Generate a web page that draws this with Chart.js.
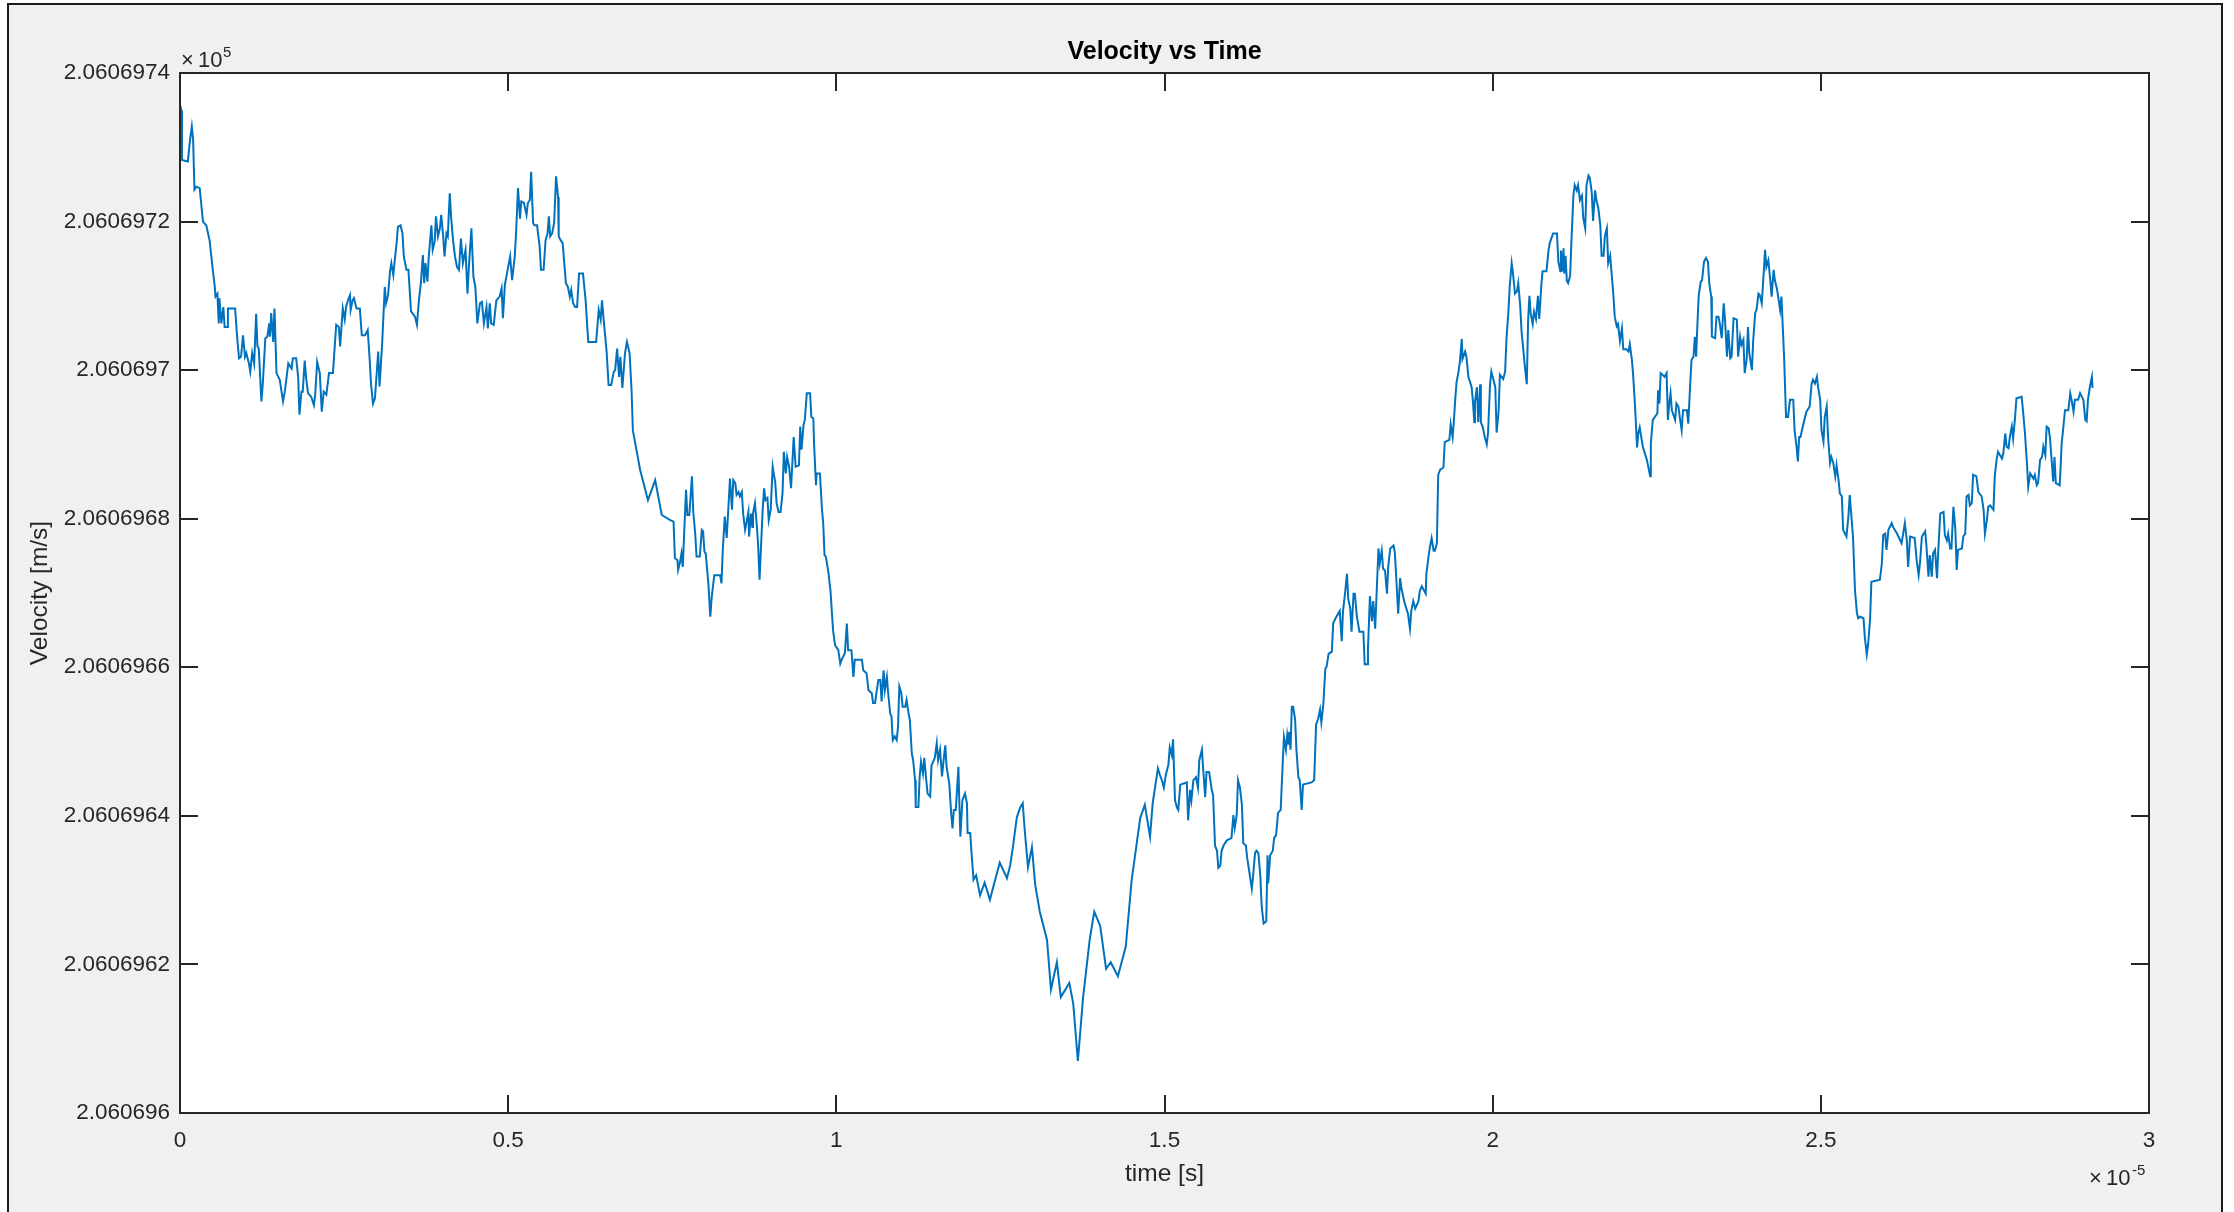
<!DOCTYPE html>
<html>
<head>
<meta charset="utf-8">
<title>Velocity vs Time</title>
<script src="https://cdn.jsdelivr.net/npm/chart.js@4.4.1/dist/chart.umd.min.js"></script>
<style>
  html, body { margin: 0; padding: 0; background: #ffffff; overflow: hidden; }
  canvas { display: block; }
</style>
</head>
<body>
<canvas id="chart" width="2234" height="1212"></canvas>
<script>
// Sample times in microseconds (the axis shows them in units of 1e-5 s)
const timeUs = [
  0,0.02,0.03,0.12,0.15,0.18,0.20,0.22,0.25,0.30,
  0.35,0.40,0.45,0.50,0.53,0.54,0.57,0.59,0.60,0.63,
  0.66,0.68,0.72,0.73,0.84,0.87,0.90,0.93,0.96,0.99,
  1.01,1.05,1.07,1.10,1.13,1.16,1.18,1.20,1.24,1.26,
  1.30,1.33,1.36,1.37,1.39,1.42,1.44,1.47,1.52,1.57,
  1.60,1.65,1.70,1.72,1.77,1.80,1.82,1.85,1.87,1.90,
  1.92,1.95,2.00,2.04,2.06,2.09,2.13,2.16,2.19,2.23,
  2.27,2.33,2.38,2.42,2.44,2.48,2.51,2.53,2.56,2.59,
  2.60,2.63,2.65,2.69,2.74,2.77,2.82,2.86,2.89,2.91,
  2.94,2.97,2.99,3.02,3.04,3.08,3.12,3.14,3.17,3.20,
  3.22,3.25,3.27,3.30,3.32,3.36,3.39,3.41,3.45,3.48,
  3.52,3.58,3.61,3.64,3.67,3.70,3.72,3.74,3.77,3.79,
  3.83,3.85,3.88,3.90,3.93,3.96,3.98,4.01,4.03,4.06,
  4.08,4.11,4.13,4.16,4.19,4.22,4.25,4.28,4.31,4.35,
  4.38,4.40,4.44,4.47,4.50,4.53,4.57,4.60,4.63,4.67,
  4.69,4.72,4.74,4.78,4.82,4.87,4.90,4.92,4.95,5.00,
  5.03,5.06,5.10,5.12,5.15,5.18,5.20,5.24,5.28,5.30,
  5.33,5.35,5.38,5.40,5.44,5.48,5.50,5.54,5.57,5.60,
  5.62,5.64,5.67,5.70,5.73,5.76,5.77,5.80,5.83,5.88,
  5.91,5.94,5.96,5.99,6.02,6.05,6.08,6.14,6.18,6.22,
  6.34,6.38,6.41,6.43,6.46,6.50,6.53,6.57,6.61,6.63,
  6.66,6.69,6.71,6.74,6.78,6.81,6.85,6.88,6.90,7.01,
  7.13,7.24,7.34,7.47,7.52,7.54,7.58,7.59,7.62,7.64,
  7.66,7.69,7.71,7.73,7.76,7.80,7.82,7.85,7.87,7.92,
  7.95,7.97,7.99,8.01,8.05,8.08,8.10,8.14,8.23,8.25,
  8.27,8.30,8.33,8.35,8.38,8.41,8.43,8.46,8.48,8.51,
  8.53,8.56,8.58,8.61,8.63,8.66,8.67,8.70,8.72,8.73,
  8.76,8.79,8.81,8.83,8.85,8.88,8.90,8.92,8.95,8.97,
  9.00,9.03,9.07,9.09,9.12,9.15,9.18,9.20,9.23,9.25,
  9.28,9.31,9.33,9.35,9.38,9.43,9.45,9.47,9.50,9.52,
  9.55,9.60,9.62,9.65,9.66,9.69,9.70,9.75,9.78,9.80,
  9.82,9.84,9.88,9.91,9.93,9.95,9.98,10.03,10.06,10.08,
  10.13,10.16,10.18,10.23,10.26,10.28,10.39,10.41,10.46,10.49,
  10.54,10.56,10.59,10.61,10.64,10.67,10.69,10.72,10.74,10.77,
  10.79,10.82,10.84,10.86,10.89,10.92,10.94,10.96,10.99,11.01,
  11.05,11.07,11.10,11.12,11.15,11.17,11.20,11.21,11.25,11.27,
  11.29,11.32,11.34,11.37,11.39,11.43,11.45,11.50,11.53,11.55,
  11.58,11.61,11.63,11.66,11.68,11.72,11.75,11.77,11.79,11.82,
  11.86,11.87,11.89,11.92,11.96,11.99,12.00,12.04,12.06,12.09,
  12.13,12.19,12.26,12.34,12.42,12.49,12.60,12.65,12.69,12.75,
  12.80,12.84,12.87,12.92,12.98,13.03,13.10,13.21,13.27,13.36,
  13.42,13.55,13.61,13.68,13.76,13.86,13.93,14.02,14.11,14.18,
  14.29,14.41,14.50,14.63,14.70,14.78,14.82,14.90,14.93,14.96,
  14.99,15.02,15.06,15.08,15.11,15.13,15.16,15.19,15.21,15.24,
  15.34,15.36,15.39,15.41,15.44,15.48,15.51,15.53,15.57,15.59,
  15.62,15.64,15.68,15.72,15.74,15.77,15.80,15.82,15.85,15.87,
  15.90,15.95,16.02,16.05,16.07,16.10,16.12,16.15,16.18,16.20,
  16.24,16.26,16.29,16.33,16.35,16.38,16.40,16.43,16.46,16.48,
  16.51,16.55,16.57,16.58,16.61,16.65,16.67,16.70,16.73,16.77,
  16.80,16.82,16.85,16.87,16.89,16.90,16.92,16.94,16.96,16.99,
  17.01,17.04,17.06,17.09,17.11,17.24,17.28,17.31,17.34,17.37,
  17.39,17.42,17.45,17.47,17.50,17.55,17.57,17.60,17.67,17.70,
  17.72,17.75,17.78,17.80,17.83,17.85,17.88,17.90,17.93,17.97,
  18.03,18.05,18.09,18.10,18.13,18.16,18.18,18.21,18.23,18.26,
  18.28,18.31,18.33,18.36,18.39,18.41,18.44,18.49,18.51,18.54,
  18.56,18.59,18.61,18.66,18.71,18.74,18.76,18.79,18.82,18.87,
  18.89,18.92,18.98,18.99,19.02,19.04,19.07,19.10,19.12,19.15,
  19.17,19.20,19.25,19.27,19.34,19.36,19.39,19.41,19.43,19.45,
  19.48,19.50,19.53,19.54,19.58,19.60,19.63,19.68,19.70,19.72,
  19.73,19.76,19.78,19.81,19.82,19.85,19.88,19.91,19.93,19.96,
  19.98,20.04,20.06,20.09,20.11,20.16,20.19,20.21,20.24,20.26,
  20.29,20.31,20.34,20.37,20.39,20.42,20.44,20.47,20.49,20.52,
  20.54,20.56,20.58,20.61,20.63,20.66,20.69,20.71,20.74,20.76,
  20.82,20.85,20.87,20.92,20.98,21.00,21.03,21.04,21.06,21.08,
  21.09,21.11,21.13,21.15,21.18,21.20,21.23,21.25,21.28,21.30,
  21.33,21.36,21.38,21.41,21.43,21.46,21.48,21.51,21.53,21.56,
  21.58,21.61,21.64,21.66,21.69,21.71,21.74,21.76,21.79,21.81,
  21.84,21.86,21.89,21.91,21.94,21.97,21.99,22.04,22.07,22.09,
  22.12,22.14,22.17,22.20,22.22,22.24,22.29,22.35,22.40,22.41,
  22.44,22.51,22.52,22.54,22.56,22.62,22.65,22.67,22.69,22.71,
  22.73,22.78,22.80,22.83,22.85,22.88,22.90,22.96,22.98,23.01,
  23.03,23.06,23.08,23.10,23.12,23.14,23.17,23.19,23.22,23.25,
  23.28,23.30,23.33,23.34,23.39,23.41,23.44,23.46,23.49,23.52,
  23.54,23.57,23.59,23.62,23.64,23.67,23.72,23.74,23.77,23.79,
  23.82,23.84,23.87,23.89,23.91,23.95,23.97,24.00,24.02,24.05,
  24.07,24.10,24.12,24.15,24.17,24.20,24.23,24.25,24.28,24.30,
  24.33,24.35,24.38,24.40,24.42,24.44,24.47,24.50,24.53,24.58,
  24.60,24.63,24.65,24.67,24.69,24.72,24.76,24.78,24.83,24.86,
  24.88,24.91,24.94,24.96,24.99,25.01,25.04,25.06,25.09,25.11,
  25.14,25.16,25.19,25.22,25.24,25.27,25.29,25.32,25.34,25.39,
  25.42,25.44,25.47,25.49,25.52,25.55,25.57,25.60,25.65,25.67,
  25.70,25.72,25.75,25.77,25.90,25.93,25.95,25.98,26.00,26.03,
  26.08,26.10,26.16,26.23,26.26,26.28,26.31,26.33,26.36,26.43,
  26.46,26.49,26.51,26.54,26.59,26.61,26.64,26.66,26.69,26.71,
  26.74,26.77,26.79,26.82,26.87,26.89,26.92,26.94,26.97,26.99,
  27.02,27.05,27.07,27.09,27.15,27.17,27.20,27.22,27.25,27.27,
  27.30,27.32,27.37,27.40,27.45,27.48,27.50,27.53,27.55,27.58,
  27.63,27.65,27.68,27.70,27.76,27.78,27.81,27.83,27.86,27.88,
  27.91,27.93,27.96,27.98,28.06,28.08,28.11,28.14,28.16,28.19,
  28.24,28.26,28.29,28.31,28.34,28.37,28.39,28.42,28.44,28.47,
  28.49,28.52,28.54,28.56,28.58,28.64,28.67,28.69,28.72,28.77,
  28.80,28.82,28.85,28.87,28.92,28.95,29.00,29.03,29.05,29.07,
  29.10,29.13,29.14
];

// Measured velocity in m/s
const velocity = [
  206069.7357,206069.7350,206069.7283,206069.7281,206069.7308,206069.7328,206069.7310,206069.7243,206069.7247,206069.7245,
  206069.7200,206069.7195,206069.7175,206069.7135,206069.7112,206069.7099,206069.7103,206069.7063,206069.7097,206069.7063,
  206069.7085,206069.7058,206069.7058,206069.7083,206069.7083,206069.7045,206069.7016,206069.7018,206069.7047,206069.7018,
  206069.7023,206069.7009,206069.6998,206069.7023,206069.7009,206069.7076,206069.7032,206069.7029,206069.6958,206069.6980,
  206069.7043,206069.7045,206069.7063,206069.7045,206069.7077,206069.7038,206069.7083,206069.6996,206069.6987,206069.6958,
  206069.6973,206069.7009,206069.7002,206069.7016,206069.7016,206069.6991,206069.6940,206069.6971,206069.6971,206069.7013,
  206069.6991,206069.6969,206069.6964,206069.6953,206069.6967,206069.7011,206069.6996,206069.6944,206069.6971,206069.6967,
  206069.6996,206069.6996,206069.7061,206069.7058,206069.7032,206069.7083,206069.7068,206069.7085,206069.7094,206069.7101,
  206069.7081,206069.7094,206069.7097,206069.7083,206069.7083,206069.7047,206069.7047,206069.7054,206069.7014,206069.6982,
  206069.6955,206069.6962,206069.6987,206069.7025,206069.6978,206069.7036,206069.7112,206069.7090,206069.7101,206069.7133,
  206069.7144,206069.7128,206069.7146,206069.7171,206069.7193,206069.7195,206069.7184,206069.7153,206069.7135,206069.7135,
  206069.7079,206069.7072,206069.7061,206069.7094,206069.7117,206069.7155,206069.7117,206069.7144,206069.7119,206069.7153,
  206069.7195,206069.7162,206069.7173,206069.7207,206069.7180,206069.7191,206069.7209,206069.7180,206069.7153,206069.7184,
  206069.7180,206069.7238,206069.7207,206069.7175,206069.7153,206069.7139,206069.7135,206069.7177,206069.7144,206069.7162,
  206069.7103,206069.7137,206069.7191,206069.7126,206069.7112,206069.7063,206069.7090,206069.7092,206069.7063,206069.7085,
  206069.7056,206069.7090,206069.7063,206069.7061,206069.7094,206069.7099,206069.7110,206069.7070,206069.7115,206069.7139,
  206069.7153,206069.7121,206069.7153,206069.7184,206069.7245,206069.7204,206069.7227,206069.7225,206069.7209,206069.7225,
  206069.7229,206069.7267,206069.7198,206069.7195,206069.7195,206069.7166,206069.7135,206069.7135,206069.7175,206069.7184,
  206069.7207,206069.7180,206069.7184,206069.7198,206069.7261,206069.7233,206069.7180,206069.7175,206069.7171,206069.7117,
  206069.7112,206069.7099,206069.7108,206069.7090,206069.7085,206069.7085,206069.7130,206069.7130,206069.7094,206069.7038,
  206069.7038,206069.7081,206069.7068,206069.7094,206069.7063,206069.7025,206069.6980,206069.6980,206069.6998,206069.7000,
  206069.7029,206069.6991,206069.7018,206069.6976,206069.7023,206069.7038,206069.7023,206069.6973,206069.6919,206069.6866,
  206069.6825,206069.6852,206069.6805,206069.6798,206069.6796,206069.6747,206069.6744,206069.6731,206069.6742,206069.6753,
  206069.6735,206069.6798,206069.6839,206069.6805,206069.6805,206069.6857,206069.6809,206069.6780,206069.6749,206069.6749,
  206069.6785,206069.6783,206069.6756,206069.6753,206069.6713,206069.6668,206069.6693,206069.6724,206069.6724,206069.6713,
  206069.6758,206069.6803,206069.6774,206069.6807,206069.6854,206069.6812,206069.6852,206069.6848,206069.6832,206069.6836,
  206069.6830,206069.6836,206069.6807,206069.6785,206069.6794,206069.6809,206069.6776,206069.6807,206069.6789,206069.6807,
  206069.6821,206069.6789,206069.6762,206069.6718,206069.6758,206069.6816,206069.6841,206069.6825,206069.6828,206069.6798,
  206069.6812,206069.6870,206069.6848,206069.6821,206069.6809,206069.6809,206069.6834,206069.6890,206069.6861,206069.6883,
  206069.6870,206069.6841,206069.6875,206069.6910,206069.6870,206069.6872,206069.6924,206069.6893,206069.6926,206069.6933,
  206069.6969,206069.6969,206069.6937,206069.6935,206069.6902,206069.6845,206069.6861,206069.6861,206069.6814,206069.6794,
  206069.6751,206069.6749,206069.6727,206069.6704,206069.6677,206069.6650,206069.6630,206069.6623,206069.6605,206069.6610,
  206069.6619,206069.6659,206069.6623,206069.6623,206069.6587,206069.6610,206069.6610,206069.6596,206069.6592,206069.6569,
  206069.6565,206069.6552,206069.6552,206069.6565,206069.6583,206069.6583,206069.6554,206069.6596,206069.6569,206069.6587,
  206069.6565,206069.6538,206069.6534,206069.6502,206069.6507,206069.6502,206069.6520,206069.6574,206069.6565,206069.6547,
  206069.6547,206069.6556,206069.6538,206069.6529,206069.6484,206069.6475,206069.6448,206069.6412,206069.6412,206069.6453,
  206069.6473,206069.6457,206069.6478,206069.6448,206069.6430,206069.6426,206069.6468,206069.6478,206069.6498,206069.6475,
  206069.6489,206069.6453,206069.6471,206069.6495,206069.6466,206069.6444,206069.6403,206069.6383,206069.6408,206069.6408,
  206069.6466,206069.6430,206069.6372,206069.6421,206069.6430,206069.6417,206069.6377,206069.6377,206069.6350,206069.6314,
  206069.6320,206069.6293,206069.6310,206069.6287,206069.6314,206069.6337,206069.6316,206069.6334,206069.6358,206069.6398,
  206069.6411,206069.6417,206069.6381,206069.6331,206069.6358,206069.6307,206069.6271,206069.6233,206069.6166,206069.6203,
  206069.6156,206069.6175,206069.6147,206069.6070,206069.6156,206069.6233,206069.6271,206069.6252,206069.6194,206069.6203,
  206069.6184,206069.6224,206069.6314,206069.6397,206069.6415,206069.6372,206069.6417,206069.6464,206069.6455,206069.6448,
  206069.6438,206069.6455,206069.6469,206069.6492,206069.6482,206069.6503,206069.6421,206069.6411,206069.6408,206069.6442,
  206069.6445,206069.6394,206069.6435,206069.6421,206069.6448,206069.6452,206069.6438,206069.6475,206069.6489,206069.6462,
  206069.6425,206069.6459,206069.6459,206069.6435,206069.6428,206069.6360,206069.6353,206069.6330,206069.6333,206069.6353,
  206069.6360,206069.6367,206069.6370,206069.6401,206069.6384,206069.6401,206069.6448,206069.6438,206069.6414,206069.6363,
  206069.6360,206069.6343,206069.6326,206069.6302,206069.6319,206069.6350,206069.6353,206069.6350,206069.6319,206069.6279,
  206069.6255,206069.6258,206069.6347,206069.6309,206069.6347,206069.6353,206069.6370,206069.6374,206069.6404,206069.6408,
  206069.6469,206069.6506,206069.6489,206069.6509,206069.6496,206069.6513,206069.6489,206069.6547,206069.6547,206069.6530,
  206069.6489,206069.6452,206069.6448,206069.6408,206069.6442,206069.6445,206069.6448,206069.6523,206069.6530,206069.6543,
  206069.6526,206069.6550,206069.6598,206069.6601,206069.6618,206069.6621,206069.6659,206069.6665,206069.6676,206069.6635,
  206069.6676,206069.6699,206069.6726,206069.6692,206069.6679,206069.6648,206069.6699,206069.6699,206069.6669,206069.6648,
  206069.6648,206069.6604,206069.6604,206069.6625,206069.6696,206069.6662,206069.6689,206069.6652,206069.6696,206069.6760,
  206069.6740,206069.6757,206069.6733,206069.6730,206069.6699,206069.6737,206069.6760,206069.6764,206069.6754,206069.6706,
  206069.6672,206069.6720,206069.6706,206069.6686,206069.6672,206069.6652,206069.6676,206069.6689,206069.6679,206069.6689,
  206069.6703,206069.6709,206069.6699,206069.6726,206069.6747,206069.6760,206069.6774,206069.6757,206069.6757,206069.6767,
  206069.6859,206069.6866,206069.6869,206069.6903,206069.6906,206069.6927,206069.6910,206069.6933,206069.6961,206069.6984,
  206069.6998,206069.7011,206069.7042,206069.7015,206069.7025,206069.7018,206069.6991,206069.6977,206069.6957,206069.6930,
  206069.6957,206069.6977,206069.6930,206069.6981,206069.6930,206069.6923,206069.6910,206069.6900,206069.6916,206069.6981,
  206069.6998,206069.6977,206069.6916,206069.6944,206069.6994,206069.6988,206069.6998,206069.7042,206069.7079,206069.7113,
  206069.7144,206069.7130,206069.7103,206069.7106,206069.7117,206069.7086,206069.7052,206069.7025,206069.7005,206069.6981,
  206069.7066,206069.7100,206069.7076,206069.7062,206069.7079,206069.7069,206069.7100,206069.7069,206069.7113,206069.7133,
  206069.7133,206069.7161,206069.7171,206069.7184,206069.7184,206069.7147,206069.7133,206069.7161,206069.7133,206069.7164,
  206069.7130,206069.7154,206069.7120,206069.7117,206069.7127,206069.7174,206069.7235,206069.7249,206069.7242,206069.7249,
  206069.7229,206069.7235,206069.7205,206069.7191,206069.7249,206069.7262,206069.7259,206069.7239,206069.7201,206069.7242,
  206069.7229,206069.7218,206069.7195,206069.7154,206069.7154,206069.7181,206069.7191,206069.7144,206069.7154,206069.7133,
  206069.7100,206069.7072,206069.7059,206069.7062,206069.7039,206069.7056,206069.7028,206069.7028,206069.7025,206069.7035,
  206069.7015,206069.6994,206069.6950,206069.6896,206069.6916,206069.6923,206069.6896,206069.6879,206069.6857,206069.6902,
  206069.6933,206069.6942,206069.6973,206069.6955,206069.6996,206069.6991,206069.6996,206069.6933,206069.6955,206069.6969,
  206069.6946,206069.6933,206069.6955,206069.6951,206069.6937,206069.6919,206069.6946,206069.6946,206069.6928,206069.6982,
  206069.7014,206069.7018,206069.7045,206069.7018,206069.7063,206069.7101,206069.7119,206069.7121,206069.7146,206069.7151,
  206069.7146,206069.7117,206069.7099,206069.7045,206069.7043,206069.7072,206069.7072,206069.7063,206069.7043,206069.7090,
  206069.7068,206069.7018,206069.7054,206069.7016,206069.7018,206069.7070,206069.7068,206069.7018,206069.7045,206069.7034,
  206069.7041,206069.6996,206069.7014,206069.7058,206069.7023,206069.7000,206069.7041,206069.7077,206069.7081,206069.7103,
  206069.7101,206069.7090,206069.7117,206069.7162,206069.7139,206069.7148,206069.7121,206069.7099,206069.7135,206069.7121,
  206069.7110,206069.7099,206069.7081,206069.7099,206069.7058,206069.7018,206069.6937,206069.6937,206069.6960,206069.6960,
  206069.6919,206069.6897,206069.6877,206069.6910,206069.6910,206069.6922,206069.6937,206069.6944,206069.6951,206069.6982,
  206069.6987,206069.6982,206069.6991,206069.6976,206069.6960,206069.6919,206069.6904,206069.6937,206069.6951,206069.6910,
  206069.6875,206069.6883,206069.6875,206069.6857,206069.6872,206069.6852,206069.6834,206069.6830,206069.6785,206069.6776,
  206069.6803,206069.6832,206069.6798,206069.6776,206069.6704,206069.6673,206069.6666,206069.6668,206069.6666,206069.6641,
  206069.6617,206069.6630,206069.6664,206069.6715,206069.6718,206069.6740,206069.6778,206069.6780,206069.6758,206069.6785,
  206069.6794,206069.6789,206069.6780,206069.6767,206069.6783,206069.6794,206069.6771,206069.6735,206069.6776,206069.6774,
  206069.6744,206069.6724,206069.6740,206069.6776,206069.6783,206069.6762,206069.6722,206069.6751,206069.6722,206069.6753,
  206069.6758,206069.6720,206069.6758,206069.6807,206069.6809,206069.6778,206069.6771,206069.6780,206069.6760,206069.6760,
  206069.6816,206069.6785,206069.6731,206069.6758,206069.6760,206069.6776,206069.6780,206069.6830,206069.6832,206069.6818,
  206069.6821,206069.6859,206069.6857,206069.6836,206069.6830,206069.6812,206069.6780,206069.6798,206069.6816,206069.6818,
  206069.6812,206069.6857,206069.6881,206069.6890,206069.6881,206069.6888,206069.6915,206069.6897,206069.6895,206069.6910,
  206069.6924,206069.6908,206069.6937,206069.6962,206069.6964,206069.6946,206069.6915,206069.6875,206069.6843,206069.6861,
  206069.6854,206069.6859,206069.6845,206069.6848,206069.6879,206069.6883,206069.6897,206069.6886,206069.6924,206069.6922,
  206069.6910,206069.6875,206069.6850,206069.6883,206069.6848,206069.6845,206069.6902,206069.6919,206069.6946,206069.6946,
  206069.6969,206069.6960,206069.6944,206069.6960,206069.6960,206069.6969,206069.6960,206069.6933,206069.6931,206069.6960,
  206069.6978,206069.6991,206069.6976
];

// Axis ticks (time axis in microseconds, labelled in units of 1e-5 s)
const xTickValues = [0, 5, 10, 15, 20, 25, 30];
const xTickLabels = ['0', '0.5', '1', '1.5', '2', '2.5', '3'];
const yTickValues = [206069.60, 206069.62, 206069.64, 206069.66, 206069.68, 206069.70, 206069.72, 206069.74];
const yTickLabels = ['2.060696', '2.0606962', '2.0606964', '2.0606966', '2.0606968', '2.060697', '2.0606972', '2.0606974'];

const FONT = "'Liberation Sans', Arial, Helvetica, sans-serif";
const AXIS_COLOR = '#262626';
const TICK_LEN = 18;

Chart.defaults.font.family = FONT;

// Figure background, axes box, inward tick marks, title and exponent labels
const figurePlugin = {
  id: 'figure',
  beforeDraw(chart) {
    const ctx = chart.ctx;
    const { left, top, right, bottom } = chart.chartArea;
    ctx.save();
    ctx.fillStyle = '#ffffff';
    ctx.fillRect(0, 0, chart.width, chart.height);
    ctx.fillStyle = '#f0f0f0';
    ctx.fillRect(8, 4, 2214, chart.height);
    ctx.strokeStyle = '#1a1a1a';
    ctx.lineWidth = 2;
    ctx.strokeRect(8, 4, 2214, chart.height + 20);
    ctx.fillStyle = '#ffffff';
    ctx.fillRect(left, top, right - left, bottom - top);
    ctx.restore();
  },
  afterDatasetsDraw(chart) {
    const ctx = chart.ctx;
    const { left, top, right, bottom } = chart.chartArea;
    const xs = chart.scales.x, ys = chart.scales.y;
    ctx.save();
    ctx.strokeStyle = AXIS_COLOR;
    ctx.lineWidth = 2;
    ctx.beginPath();
    xTickValues.forEach(v => {
      const px = Math.round(xs.getPixelForValue(v));
      ctx.moveTo(px, bottom); ctx.lineTo(px, bottom - TICK_LEN);
      ctx.moveTo(px, top); ctx.lineTo(px, top + TICK_LEN);
    });
    yTickValues.forEach(v => {
      const py = Math.round(ys.getPixelForValue(v));
      ctx.moveTo(left, py); ctx.lineTo(left + TICK_LEN, py);
      ctx.moveTo(right, py); ctx.lineTo(right - TICK_LEN, py);
    });
    ctx.stroke();
    ctx.strokeRect(left, top, right - left, bottom - top);

    // title
    ctx.fillStyle = '#000000';
    ctx.font = `bold 25px ${FONT}`;
    ctx.textAlign = 'center';
    ctx.textBaseline = 'middle';
    ctx.fillText('Velocity vs Time', (left + right) / 2, top - 21);

    // exponent of the velocity axis
    ctx.fillStyle = AXIS_COLOR;
    ctx.textAlign = 'left';
    ctx.textBaseline = 'alphabetic';
    ctx.font = `22px ${FONT}`;
    ctx.fillText('\u00d7', left + 1, top - 6);
    ctx.fillText('10', left + 18, top - 6);
    ctx.font = `15px ${FONT}`;
    ctx.fillText('5', left + 43, top - 16);

    // exponent of the time axis
    ctx.font = `22px ${FONT}`;
    ctx.fillText('\u00d7', right - 60, bottom + 72);
    ctx.fillText('10', right - 43, bottom + 72);
    ctx.font = `15px ${FONT}`;
    ctx.fillText('-5', right - 17, bottom + 62);
    ctx.restore();
  }
};

const points = timeUs.map((t, i) => ({ x: t, y: velocity[i] }));

new Chart(document.getElementById('chart'), {
  type: 'line',
  data: {
    datasets: [{
      label: 'Velocity',
      data: points,
      borderColor: '#0072BD',
      borderWidth: 2,
      pointRadius: 0,
      tension: 0,
      fill: false
    }]
  },
  options: {
    responsive: false,
    animation: false,
    devicePixelRatio: 1,
    layout: { padding: { left: 0, top: 73, right: 85, bottom: 0 } },
    plugins: {
      legend: { display: false },
      title: { display: false },
      tooltip: { enabled: false }
    },
    scales: {
      x: {
        type: 'linear',
        position: 'bottom',
        min: 0,
        max: 30,
        afterBuildTicks: s => { s.ticks = xTickValues.map(v => ({ value: v })); },
        afterFit: s => { s.height = 99; },
        grid: { display: false, drawTicks: false },
        border: { display: false },
        ticks: {
          autoSkip: false,
          maxRotation: 0,
          padding: 14,
          color: AXIS_COLOR,
          font: { family: FONT, size: 22.5 },
          callback: (v, i) => xTickLabels[i]
        },
        title: {
          display: true,
          text: 'time [s]',
          color: AXIS_COLOR,
          font: { family: FONT, size: 24.5 },
          padding: { top: 0, bottom: 23 }
        }
      },
      y: {
        type: 'linear',
        position: 'left',
        min: yTickValues[0],
        max: yTickValues[yTickValues.length - 1],
        afterBuildTicks: s => { s.ticks = yTickValues.map(v => ({ value: v })); },
        afterFit: s => { s.width = 180; },
        grid: { display: false, drawTicks: false },
        border: { display: false },
        ticks: {
          autoSkip: false,
          padding: 10,
          color: AXIS_COLOR,
          font: { family: FONT, size: 22.5 },
          callback: (v, i) => yTickLabels[i]
        },
        title: {
          display: true,
          text: 'Velocity [m/s]',
          color: AXIS_COLOR,
          font: { family: FONT, size: 24.5 },
          padding: { top: 26, bottom: 0 }
        }
      }
    }
  },
  plugins: [figurePlugin]
});
</script>
</body>
</html>
